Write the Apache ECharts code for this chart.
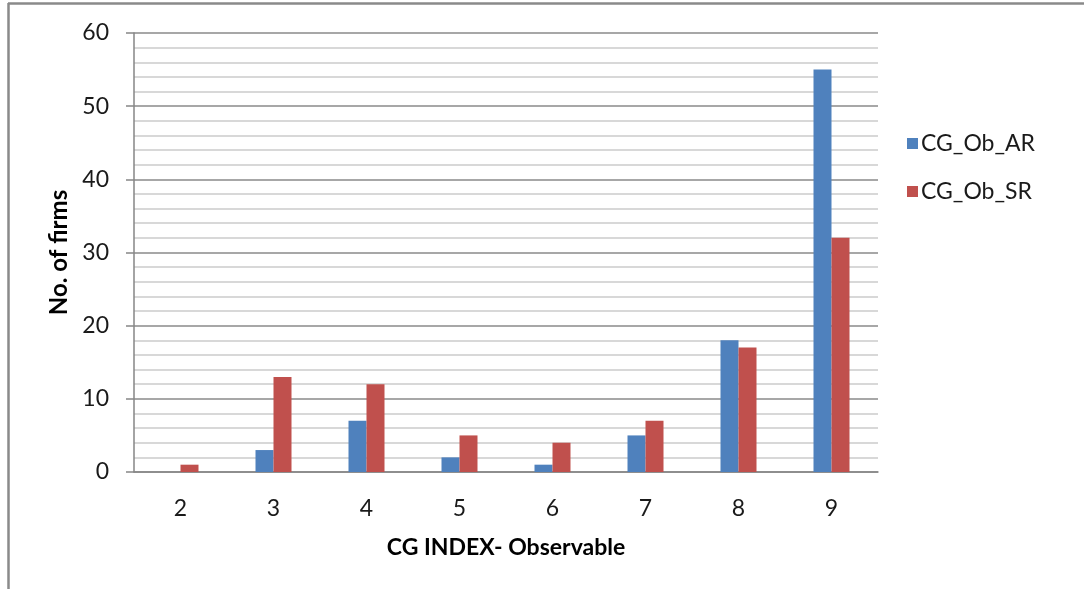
<!DOCTYPE html>
<html>
<head>
<meta charset="utf-8">
<title>CG INDEX- Observable</title>
<script src="https://cdn.jsdelivr.net/npm/echarts@6/dist/echarts.min.js"></script>
<style>
  html, body { margin: 0; padding: 0; background: #ffffff; }
  #chart { width: 1084px; height: 589px; }
</style>
</head>
<body>
<div id="chart"></div>
<script>
// CG index scores (observable) and number of firms per score
const categories = ['2', '3', '4', '5', '6', '7', '8', '9'];
const seriesNames = ['CG_Ob_AR', 'CG_Ob_SR'];
const arValues = [0, 3, 7, 2, 1, 5, 18, 55];
const srValues = [1, 13, 12, 5, 4, 7, 17, 32];

const fontFamily = 'Lato, "Open Sans", "Liberation Sans", sans-serif';

const chart = echarts.init(document.getElementById('chart'), null, { renderer: 'canvas' });

chart.setOption({
  animation: false,
  backgroundColor: '#ffffff',
  textStyle: { fontFamily: fontFamily },
  grid: { left: 134, top: 33, right: 206, bottom: 117, containLabel: false },
  legend: {
    orient: 'vertical',
    left: 902,
    top: 127,
    itemWidth: 11,
    itemHeight: 11,
    itemGap: 25,
    icon: 'rect',
    textStyle: { fontFamily: fontFamily, fontSize: 23, color: '#1a1a1a', padding: [0, 0, 0, -2] },
    data: seriesNames
  },
  xAxis: {
    type: 'category',
    data: categories,
    name: 'CG INDEX- Observable',
    nameLocation: 'middle',
    nameGap: 64,
    nameTextStyle: { fontFamily: fontFamily, fontSize: 23, fontWeight: 'bold', color: '#000' },
    axisLine: { lineStyle: { color: '#868686', width: 1.5 } },
    axisTick: { show: false },
    axisLabel: { margin: 25, fontSize: 23, color: '#1a1a1a', fontFamily: fontFamily },
    splitLine: { show: false }
  },
  yAxis: {
    type: 'value',
    min: 0,
    max: 60,
    interval: 10,
    name: 'No. of firms',
    nameLocation: 'middle',
    nameGap: 62,
    nameRotate: 90,
    nameTextStyle: { fontFamily: fontFamily, fontSize: 24, fontWeight: 'bold', color: '#000' },
    axisLine: { show: true, lineStyle: { color: '#868686', width: 1.5 } },
    axisTick: { show: true, length: 8, lineStyle: { color: '#868686', width: 1.5 } },
    axisLabel: { margin: 25, fontSize: 23, color: '#1a1a1a', fontFamily: fontFamily },
    splitLine: { show: true, lineStyle: { color: '#8a8a8a', width: 1.5 } },
    minorTick: { show: false, splitNumber: 5 },
    minorSplitLine: { show: true, lineStyle: { color: '#cccccc', width: 1.5 } }
  },
  series: [
    {
      name: seriesNames[0],
      type: 'bar',
      data: arValues,
      barWidth: 18,
      barGap: '0%',
      itemStyle: { color: '#4F81BD' }
    },
    {
      name: seriesNames[1],
      type: 'bar',
      data: srValues,
      barWidth: 18,
      barGap: '0%',
      itemStyle: { color: '#C0504D' }
    }
  ],
  graphic: [
    {
      type: 'line',
      shape: { x1: 8, y1: 3.5, x2: 1084, y2: 3.5 },
      style: { stroke: '#8a8a8a', lineWidth: 2.5 },
      silent: true
    },
    {
      type: 'line',
      shape: { x1: 8.5, y1: 3, x2: 8.5, y2: 589 },
      style: { stroke: '#8a8a8a', lineWidth: 2.5 },
      silent: true
    }
  ]
});
</script>
</body>
</html>
